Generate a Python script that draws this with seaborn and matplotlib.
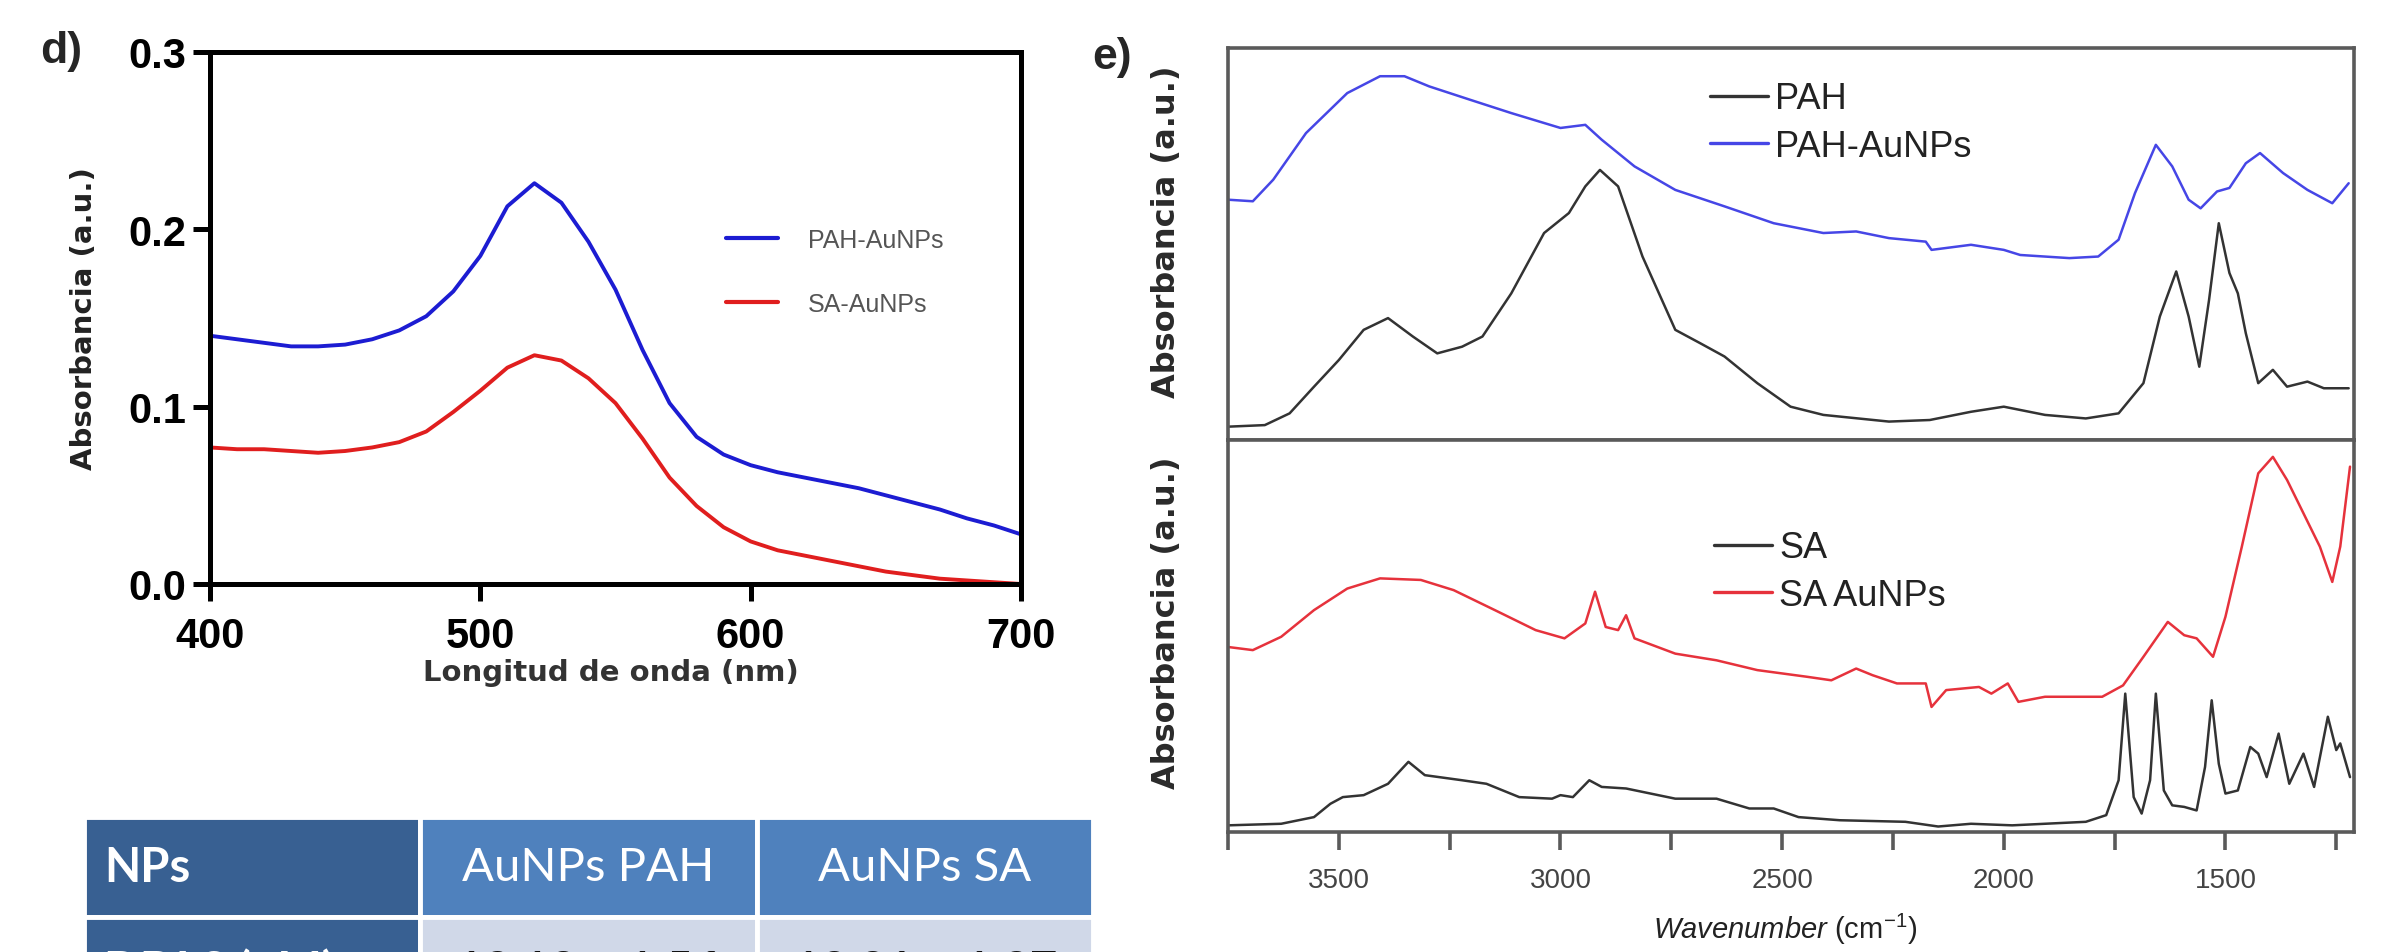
import matplotlib
matplotlib.use("Agg")
import matplotlib.pyplot as plt
from matplotlib.table import Table
from matplotlib.ticker import MultipleLocator
import numpy as np
import pandas as pd
import seaborn as sns

sns.set_theme(style="ticks")
plt.rcParams['font.family'] = ['Liberation Sans', 'DejaVu Sans']
plt.rcParams['mathtext.fontset'] = 'custom'
plt.rcParams['mathtext.it'] = 'Liberation Sans:italic'
plt.rcParams['mathtext.rm'] = 'Liberation Sans'

# ---- panel d: UV-vis ----
wavelength = [400, 410, 420, 430, 440, 450, 460, 470, 480, 490, 500, 510, 520, 530, 540, 550,
              560, 570, 580, 590, 600, 610, 620, 630, 640, 650, 660, 670, 680, 690, 700]
pah_aunps_uv = [0.140, 0.138, 0.136, 0.134, 0.134, 0.135, 0.138, 0.143, 0.151, 0.165, 0.185,
                0.213, 0.226, 0.215, 0.193, 0.166, 0.132, 0.102, 0.083, 0.073, 0.067, 0.063,
                0.060, 0.057, 0.054, 0.050, 0.046, 0.042, 0.037, 0.033, 0.028]
sa_aunps_uv = [0.077, 0.076, 0.076, 0.075, 0.074, 0.075, 0.077, 0.080, 0.086, 0.097, 0.109,
               0.122, 0.129, 0.126, 0.116, 0.102, 0.082, 0.060, 0.044, 0.032, 0.024, 0.019,
               0.016, 0.013, 0.010, 0.007, 0.005, 0.003, 0.002, 0.001, 0.000]
d_xticks = [400, 500, 600, 700]
d_yticks = [0.0, 0.1, 0.2, 0.3]

# ---- panel e: FTIR (arbitrary units) ----
pah_wn = [3750, 3667, 3611, 3556, 3500, 3444, 3389, 3333, 3278, 3222, 3176, 3111, 3037, 2981,
          2944, 2911, 2870, 2815, 2741, 2685, 2630, 2556, 2481, 2407, 2259, 2167, 2074, 2000,
          1907, 1815, 1741, 1685, 1648, 1611, 1583, 1559, 1537, 1515, 1491, 1472, 1454, 1426,
          1393, 1361, 1315, 1278, 1222]
pah_ir = [0.034, 0.038, 0.068, 0.136, 0.204, 0.281, 0.311, 0.264, 0.221, 0.238, 0.264, 0.374,
          0.528, 0.579, 0.647, 0.689, 0.647, 0.468, 0.281, 0.247, 0.213, 0.145, 0.085, 0.064,
          0.047, 0.051, 0.072, 0.085, 0.064, 0.055, 0.068, 0.145, 0.315, 0.430, 0.315, 0.187,
          0.357, 0.553, 0.426, 0.374, 0.272, 0.145, 0.179, 0.136, 0.149, 0.132, 0.132]
pah_np_wn = [3750, 3694, 3648, 3574, 3481, 3407, 3352, 3296, 3204, 3111, 3000, 2944, 2907, 2833,
             2741, 2630, 2519, 2407, 2333, 2259, 2176, 2163, 2074, 2000, 1963, 1852, 1787, 1741,
             1704, 1657, 1620, 1583, 1556, 1519, 1491, 1454, 1422, 1370, 1315, 1259, 1222]
pah_np_ir = [0.613, 0.609, 0.664, 0.783, 0.885, 0.928, 0.928, 0.902, 0.868, 0.834, 0.796, 0.804,
             0.766, 0.698, 0.638, 0.596, 0.553, 0.528, 0.532, 0.515, 0.506, 0.485, 0.498, 0.485,
             0.472, 0.464, 0.468, 0.511, 0.630, 0.753, 0.698, 0.613, 0.591, 0.634, 0.643, 0.706,
             0.732, 0.681, 0.638, 0.604, 0.655]
sa_wn = [3750, 3630, 3556, 3519, 3491, 3444, 3389, 3343, 3306, 3222, 3167, 3093, 3019, 3000,
         2972, 2935, 2907, 2852, 2741, 2648, 2574, 2519, 2463, 2370, 2222, 2148, 2074, 1981,
         1815, 1769, 1741, 1726, 1707, 1689, 1670, 1657, 1639, 1620, 1593, 1565, 1546, 1531,
         1515, 1500, 1472, 1444, 1426, 1407, 1380, 1356, 1324, 1300, 1269, 1250, 1241, 1219]
sa_ir = [0.017, 0.021, 0.038, 0.072, 0.089, 0.094, 0.123, 0.179, 0.145, 0.132, 0.123, 0.089,
         0.085, 0.094, 0.089, 0.132, 0.115, 0.111, 0.085, 0.085, 0.060, 0.060, 0.038, 0.030,
         0.026, 0.014, 0.021, 0.017, 0.026, 0.043, 0.132, 0.353, 0.089, 0.047, 0.132, 0.353,
         0.106, 0.068, 0.064, 0.055, 0.166, 0.336, 0.174, 0.098, 0.106, 0.217, 0.200, 0.140,
         0.251, 0.123, 0.200, 0.115, 0.294, 0.209, 0.226, 0.140]
sa_np_wn = [3750, 3694, 3630, 3556, 3481, 3407, 3315, 3241, 3148, 3056, 2991, 2944, 2922, 2898,
            2870, 2852, 2833, 2741, 2648, 2556, 2444, 2389, 2333, 2296, 2241, 2176, 2163, 2130,
            2056, 2028, 1991, 1967, 1907, 1778, 1731, 1685, 1630, 1593, 1565, 1528, 1500, 1463,
            1426, 1393, 1361, 1324, 1287, 1259, 1241, 1219]
sa_np_ir = [0.472, 0.464, 0.498, 0.566, 0.621, 0.647, 0.643, 0.617, 0.566, 0.515, 0.494, 0.532,
            0.613, 0.523, 0.515, 0.553, 0.494, 0.455, 0.438, 0.413, 0.396, 0.387, 0.417, 0.400,
            0.379, 0.379, 0.319, 0.362, 0.370, 0.353, 0.379, 0.332, 0.345, 0.345, 0.374, 0.447,
            0.536, 0.502, 0.494, 0.447, 0.549, 0.728, 0.915, 0.957, 0.898, 0.813, 0.728, 0.638,
            0.728, 0.932]
e_major = 500
e_minor = 250

# ---- table ----
table_header = ["NPs", "AuNPs PAH", "AuNPs SA"]
table_row = ["DDLS (nM)", "13.13 ± 1.56", "12.21 ± 1.37"]

W, H = 2393, 953
fig = plt.figure(figsize=(W / 100, H / 100), dpi=100)
fig.patch.set_facecolor("white")

# ================= panel d =================
axd = fig.add_axes([210 / W, 1 - 585 / H, 811 / W, 532 / H])
dfd = pd.DataFrame({"wl": wavelength, "PAH-AuNPs": pah_aunps_uv, "SA-AuNPs": sa_aunps_uv})
sns.lineplot(data=dfd, x="wl", y="PAH-AuNPs", ax=axd, color="#1c1cd2", lw=2.8, label="PAH-AuNPs")
sns.lineplot(data=dfd, x="wl", y="SA-AuNPs", ax=axd, color="#e01e1e", lw=2.8, label="SA-AuNPs")
axd.set_xlim(400, 700)
axd.set_ylim(0, 0.3)
axd.set_xticks(d_xticks)
axd.set_yticks(d_yticks)
axd.set_yticklabels(["%.1f" % v for v in d_yticks])
for s in axd.spines.values():
    s.set_linewidth(3.6)
    s.set_color("black")
axd.tick_params(direction="out", length=12, width=3.6, labelsize=30, colors="black")
axd.tick_params(axis="x", pad=11)
axd.tick_params(axis="y", pad=5)
for t in axd.get_xticklabels() + axd.get_yticklabels():
    t.set_fontweight("bold")
axd.set_xlabel("Longitud de onda (nm)", fontsize=21, fontweight="bold", color="#333333",
               family="DejaVu Sans")
axd.set_ylabel("Absorbancia (a.u.)", fontsize=21, fontweight="bold", color="#222222",
               family="DejaVu Sans")
axd.xaxis.set_label_coords(0.494, -0.140)
axd.yaxis.set_label_coords(-0.138, 0.5)
axd.legend(loc="upper left", bbox_to_anchor=(0.636, 0.67), frameon=False, fontsize=18,
           handlelength=2.1, handletextpad=1.2, labelspacing=1.6, borderpad=0,
           borderaxespad=0, labelcolor="#555555")
for ln in axd.get_legend().get_lines():
    ln.set_linewidth(3)

fig.text(61 / W, 1 - 52 / H, "d)", fontsize=32, fontweight="bold", ha="center", va="center")
fig.text(1112 / W, 1 - 58 / H, "e)", fontsize=32, fontweight="bold", ha="center", va="center")

# ================= panel e =================
gray = "#5a5a5a"
axu = fig.add_axes([1228 / W, 1 - 441 / H, 1126 / W, 392 / H])
axl = fig.add_axes([1228 / W, 1 - 833 / H, 1126 / W, 392 / H])

sns.lineplot(x=pah_wn, y=pah_ir, ax=axu, color="#333333", lw=1.8, label="PAH", sort=False)
sns.lineplot(x=pah_np_wn, y=pah_np_ir, ax=axu, color="#4646e6", lw=1.8, label="PAH-AuNPs", sort=False)
sns.lineplot(x=sa_wn, y=sa_ir, ax=axl, color="#333333", lw=1.8, label="SA", sort=False)
sns.lineplot(x=sa_np_wn, y=sa_np_ir, ax=axl, color="#e6323c", lw=1.8, label="SA AuNPs", sort=False)

for ax, lx, ly, yc in [(axu, 0.428, 0.915, 0.533), (axl, 0.432, 0.77, 0.536)]:
    ax.set_xlim(3750, 1210)
    ax.set_ylim(0, 1)
    ax.set_yticks([])
    for s in ax.spines.values():
        s.set_linewidth(2.6)
        s.set_color(gray)
    ax.set_ylabel("Absorbancia (a.u.)", fontsize=23, fontweight="bold", color="#2a2a2a",
                  family="DejaVu Sans")
    ax.yaxis.set_label_coords(-0.041, yc)
    leg = ax.legend(loc="upper left", bbox_to_anchor=(lx, ly), frameon=False, fontsize=26,
                    handlelength=1.6, handletextpad=0.2, labelspacing=0.35, borderpad=0,
                    borderaxespad=0, labelcolor="#222222")
    for ln in leg.get_lines():
        ln.set_linewidth(2.4)
    ax.set_xlabel("")

axu.tick_params(bottom=False, labelbottom=False, left=False)
axl.xaxis.set_major_locator(MultipleLocator(e_major))
axl.xaxis.set_minor_locator(MultipleLocator(e_minor))
axl.tick_params(axis="x", which="both", direction="out", length=13, width=2.6, color=gray,
                labelsize=20, labelcolor="#444444", pad=12)
axl.tick_params(left=False)
axl.set_xlabel(r"$\it{Wavenumber}$ (cm$^{-1}$)", fontsize=21, color="#222222")
axl.xaxis.set_label_coords(0.495, -0.20)

# ================= table =================
# header row 818-918 px, second row starts at 918 and runs past the bottom edge
tax = fig.add_axes([84 / W, 1 - 1026 / H, 1009 / W, 208 / H])
tax.axis("off")
tbl = Table(tax, bbox=[0, 0, 1, 1])
dark, mid, light = "#386092", "#4f81bd", "#d0d8e8"
rows = [table_header, table_row]
row_h = [100 / 208, 108 / 208]
for r, row in enumerate(rows):
    for c, txt in enumerate(row):
        face = dark if c == 0 else (mid if r == 0 else light)
        cell = tbl.add_cell(r, c, 1 / 3, row_h[r], text=txt, loc="left" if c == 0 else "center",
                            facecolor=face, edgecolor="white")
        cell.set_linewidth(3.5)
        cell.PAD = 0.06
        tcol = "white" if (r == 0 or c == 0) else "#111111"
        weight = "bold" if (c == 0 or r == 1) else "normal"
        cell.get_text().set_fontfamily("Lato")
        cell.get_text().set_fontsize(34)
        cell.get_text().set_color(tcol)
        cell.get_text().set_fontweight(weight)
tbl.auto_set_font_size(False)
tax.add_table(tbl)

fig.savefig("out.png", dpi=100, facecolor="white")
